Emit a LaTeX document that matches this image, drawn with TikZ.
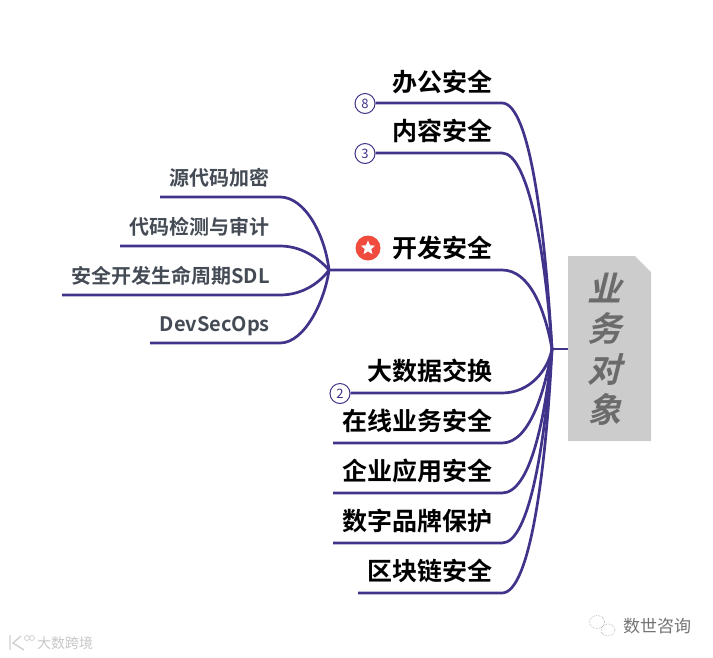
\documentclass[tikz,border=0pt]{standalone}
\usepackage{fontspec}
\usetikzlibrary{shapes.geometric,positioning,calc}
\setmainfont{Noto Sans CJK SC}[BoldFont=* Bold]
\newfontfamily\objfont{Noto Sans CJK SC Bold}[FakeSlant=0.25]
\definecolor{branchcol}{HTML}{40338A}
\definecolor{subcol}{HTML}{444B55}
\definecolor{topiccol}{HTML}{CCCCCC}
\definecolor{objcol}{HTML}{6B6B6B}
\definecolor{starcol}{HTML}{EF4B3F}
\tikzset{
  branch/.style={branchcol,line width=2.7pt},
  mainlabel/.style={anchor=east,inner sep=0pt,font=\fontsize{25}{26}\selectfont\bfseries,text=black},
  sublabel/.style={anchor=east,inner sep=0pt,font=\fontsize{20}{22}\selectfont\bfseries,text=subcol},
  countbadge/.style={circle,draw=branchcol,fill=white,line width=1pt,inner sep=0pt,minimum size=20pt,
    font=\fontsize{13}{13}\selectfont,text=branchcol}
}
\begin{document}
\begin{tikzpicture}[x=1pt,y=-1pt]
  \useasboundingbox (0,0) rectangle (713,657);

  % Central topic
  \fill[topiccol] (568,256) -- (635,256) -- (651,272) -- (651,441) -- (568,441) -- cycle;
  \node[minimum width=73pt,minimum height=185pt,inner sep=0pt,align=center,text=objcol,
    font=\objfont\fontsize{34}{40.5}\selectfont] (topic) at (604.5,349) {业\\务\\对\\象};
  \coordinate (hub) at (552,349);
  \draw[branch] (hub) -- (topic.west);

  % Upper branches
  \node[mainlabel] (office) at (493,82) {办公安全};
  \node[countbadge] (badgeoffice) at (365,103.500) {8};
  \coordinate (officebend) at (502,103);
  \draw[branch] (badgeoffice.east |- officebend) -- (officebend) .. controls (530,103) and (545,230) .. (hub);

  \node[mainlabel] (content) at (493,131) {内容安全};
  \node[countbadge] (badgecontent) at (365,153.500) {3};
  \coordinate (contentbend) at (502,153);
  \draw[branch] (badgecontent.east |- contentbend) -- (contentbend) .. controls (528,153) and (545,250) .. (hub);

  % Development branch and its children
  \node[mainlabel] (dev) at (493,248) {开发安全};
  \node[circle,fill=starcol,minimum size=25pt,inner sep=0pt] (badgedev) at (368,248) {};
  \node[star,star points=5,star point ratio=2.2,fill=white,minimum size=15pt,inner sep=0pt] (stardev) at (badgedev) {};
  \coordinate (devhub) at (329,270);
  \coordinate (devbend) at (502,270);
  \draw[branch] (devhub) -- (devbend) .. controls (530,270) and (545,310) .. (hub);

  \node[sublabel] (encrypt) at (270,178) {源代码加密};
  \coordinate (encryptend) at (160,197);
  \coordinate (encryptbend) at (280,197);
  \draw[branch] (encryptend) -- (encryptbend) .. controls (305,197) and (325,235) .. (devhub);

  \node[sublabel] (audit) at (270,227) {代码检测与审计};
  \coordinate (auditend) at (120,246);
  \coordinate (auditbend) at (280,246);
  \draw[branch] (auditend) -- (auditbend) .. controls (305,246) and (322,262) .. (devhub);

  \node[sublabel] (sdl) at (270,276) {安全开发生命周期SDL};
  \coordinate (sdlend) at (62,295);
  \coordinate (sdlbend) at (280,295);
  \draw[branch] (sdlend) -- (sdlbend) .. controls (305,295) and (322,280) .. (devhub);

  \node[sublabel] (devsec) at (270,326) {DevSecOps};
  \coordinate (devsecend) at (150,343);
  \coordinate (devsecbend) at (280,343);
  \draw[branch] (devsecend) -- (devsecbend) .. controls (305,343) and (325,300) .. (devhub);

  % Lower branches
  \node[mainlabel] (bigdata) at (493,371) {大数据交换};
  \node[countbadge] (badgebigdata) at (340,393.500) {2};
  \coordinate (bigdatabend) at (502,393);
  \draw[branch] (badgebigdata.east |- bigdatabend) -- (bigdatabend) .. controls (530,393) and (548,370) .. (hub);

  \node[mainlabel] (online) at (493,421) {在线业务安全};
  \coordinate (onlineend) at (333,443);
  \coordinate (onlinebend) at (502,443);
  \draw[branch] (onlineend) -- (onlinebend) .. controls (530,443) and (545,390) .. (hub);

  \node[mainlabel] (enterprise) at (493,471) {企业应用安全};
  \coordinate (enterpriseend) at (333,493);
  \coordinate (enterprisebend) at (502,493);
  \draw[branch] (enterpriseend) -- (enterprisebend) .. controls (530,493) and (545,420) .. (hub);

  \node[mainlabel] (brand) at (493,521) {数字品牌保护};
  \coordinate (brandend) at (333,543);
  \coordinate (brandbend) at (502,543);
  \draw[branch] (brandend) -- (brandbend) .. controls (530,543) and (545,440) .. (hub);

  \node[mainlabel] (chain) at (493,571) {区块链安全};
  \coordinate (chainend) at (358,593);
  \coordinate (chainbend) at (502,593);
  \draw[branch] (chainend) -- (chainbend) .. controls (530,593) and (546,470) .. (hub);

  % Watermarks
  \node[anchor=west,inner sep=0pt,text=black!22,font=\fontsize{14}{14}\selectfont] (markleft) at (37,643) {大数跨境};
  \draw[black!18,line width=1.4pt] (10,635) -- (10,650) (21,636) -- (13,643) -- (24,650);
  \draw[black!18,line width=0.8pt] (27,638) circle (2.5) (32,638) circle (2.5);
  \node[anchor=west,inner sep=0pt,text=black!55,font=\fontsize{17}{17}\selectfont] (markright) at (623,626) {数世咨询};
  \draw[black!35,line width=0.6pt,densely dotted] (597,622) ellipse (7.500 and 6.500) (608,630) ellipse (7 and 6);
\end{tikzpicture}
\end{document}
